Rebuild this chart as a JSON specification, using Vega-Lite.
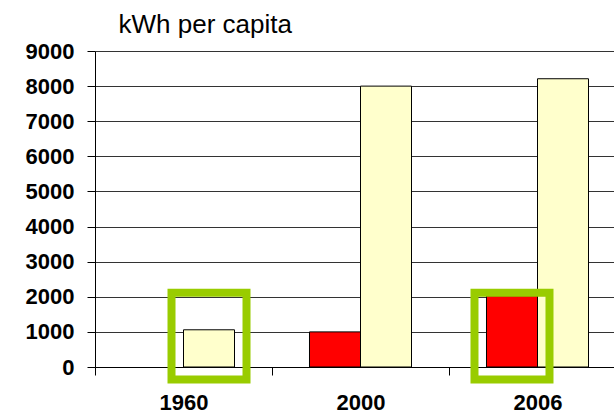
{
  "$schema": "https://vega.github.io/schema/vega-lite/v6.json",
  "width": 519,
  "height": 316,
  "autosize": "none",
  "padding": {"left": 95, "top": 51, "right": 0, "bottom": 50},
  "background": "white",
  "config": {
    "view": {"stroke": null},
    "font": "Liberation Sans",
    "axisX": {
      "labelAngle": 0, "tickBand": "extent",
      "labelFontSize": 22, "labelFontWeight": "bold", "labelColor": "black",
      "labelPadding": 17, "tickSize": 8, "tickColor": "black",
      "domainColor": "black", "grid": false, "labelOverlap": false
    },
    "axisY": {
      "tickCount": 10, "labelOverlap": false,
      "labelFontSize": 22, "labelFontWeight": "bold", "labelColor": "black",
      "labelPadding": 13, "tickSize": 8, "tickColor": "black",
      "domainColor": "black", "grid": true, "gridColor": "#333333",
      "titleAngle": 0, "titleAlign": "left",
      "titleBaseline": "alphabetic", "titleX": 23, "titleY": -19,
      "titleFontSize": 26, "titleFontWeight": "normal", "titleColor": "black"
    }
  },
  "layer": [
    {
      "data": {"values": [
        {"year": "1960", "series": "Series 2", "value": 1060},
        {"year": "2000", "series": "Series 1", "value": 1000},
        {"year": "2000", "series": "Series 2", "value": 8000},
        {"year": "2006", "series": "Series 1", "value": 2030},
        {"year": "2006", "series": "Series 2", "value": 8210}
      ]},
      "mark": {"type": "bar", "stroke": "black", "strokeWidth": 1},
      "encoding": {
        "x": {
          "field": "year", "type": "nominal",
          "scale": {"range": [0, 531], "paddingInner": 0, "paddingOuter": 0},
          "axis": {"title": null}
        },
        "xOffset": {"field": "series", "type": "nominal", "scale": {"domain": ["Series 1", "Series 2"], "paddingOuter": 0.735, "paddingInner": 0}},
        "y": {
          "field": "value", "type": "quantitative",
          "scale": {"domain": [0, 9000], "nice": false},
          "axis": {"title": "kWh per capita", "format": "d", "values": [0, 1000, 2000, 3000, 4000, 5000, 6000, 7000, 8000, 9000]}
        },
        "color": {"field": "series", "type": "nominal", "scale": {"domain": ["Series 1", "Series 2"], "range": ["#FF0000", "#FFFFCC"]}, "legend": null}
      }
    },
    {
      "data": {"values": [
        {"year": "1960", "series": "Series 2", "lo": -358, "hi": 2118},
        {"year": "2006", "series": "Series 1", "lo": -358, "hi": 2118}
      ]},
      "mark": {"type": "bar", "filled": false, "color": "#99CC00", "strokeWidth": 8, "width": 75, "opacity": 1, "strokeJoin": "miter"},
      "encoding": {
        "x": {"field": "year", "type": "nominal", "axis": {"title": null}},
        "xOffset": {"field": "series", "type": "nominal"},
        "y": {"field": "lo", "type": "quantitative", "axis": {"title": "kWh per capita", "format": "d", "values": [0, 1000, 2000, 3000, 4000, 5000, 6000, 7000, 8000, 9000]}},
        "y2": {"field": "hi"}
      }
    }
  ]
}
